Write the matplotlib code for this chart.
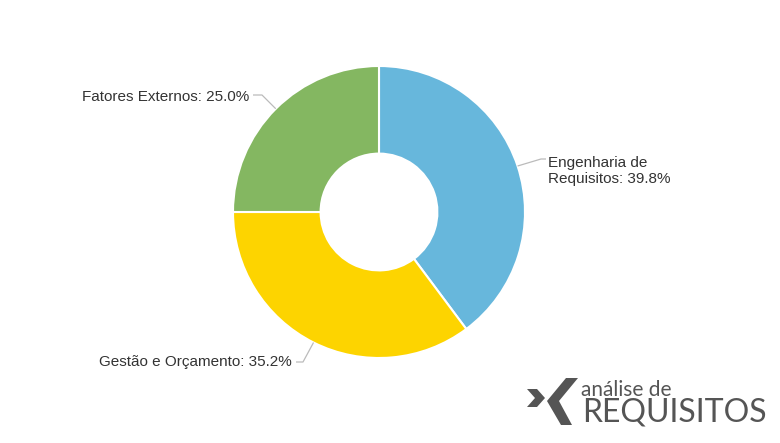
import numpy as np
import matplotlib.pyplot as plt
from matplotlib.patches import Polygon

categories = ["Engenharia de\nRequisitos", "Gestão e Orçamento", "Fatores Externos"]
values = [39.8, 35.2, 25.0]
colors = ["#67b7dc", "#fdd400", "#84b761"]

W, H = 780, 443
cx, cy, R = 379, H - 212, 146

fig = plt.figure(figsize=(7.8, 4.43), dpi=100)
ax = fig.add_axes([0, 0, 1, 1])

wedges, _ = ax.pie(values, colors=colors, startangle=90, counterclock=False,
                   center=(cx, cy), radius=R,
                   wedgeprops=dict(width=R * 0.6, edgecolor="white", linewidth=1.5))
# pie resets the limits, so set them afterwards
ax.set_xlim(0, W)
ax.set_ylim(0, H)
ax.set_aspect("equal")
ax.axis("off")

# label layout: (text x, text y, alignment, elbow points) in pixel coords from top
layout = [
    (548, 171, "left", [(546, 159), (541, 159)]),
    (292, 362, "right", [(296, 362), (303, 362)]),
    (249, 97, "right", [(253, 95), (262, 95)]),
]

font = dict(family=["Liberation Sans", "DejaVu Sans"], size=11, color="#333333")
for w, cat, val, (tx, ty, ha, elbow) in zip(wedges, categories, values, layout):
    mid = np.deg2rad((w.theta1 + w.theta2) / 2)
    px, py = cx + R * np.cos(mid), cy + R * np.sin(mid)
    xs = [e[0] for e in elbow] + [px]
    ys = [H - e[1] for e in elbow] + [py]
    ax.plot(xs, ys, color="#bbbbbb", lw=0.9, solid_capstyle="butt")
    ax.text(tx, H - ty, f"{cat}: {val:.1f}%", ha=ha, va="center",
            linespacing=1.1, **font)

# logo
logo = "#555555"
left = [(527, 389), (537, 389), (545, 398), (537, 407), (527, 407), (535, 398)]
right = [(566, 378), (578, 378), (559, 401), (572, 425), (561, 425), (547, 401)]
for pts in (left, right):
    ax.add_patch(Polygon([(x, H - y) for x, y in pts], closed=True,
                         facecolor=logo, edgecolor="none"))
ax.text(581, H - 396, "análise de", ha="left", va="baseline",
        family=["Lato", "DejaVu Sans"], size=15, color=logo)
ax.text(582, H - 422, "REQUISITOS", ha="left", va="baseline",
        family=["Lato", "DejaVu Sans"], size=23, color=logo)

fig.savefig("out.png", dpi=100, facecolor="white")
